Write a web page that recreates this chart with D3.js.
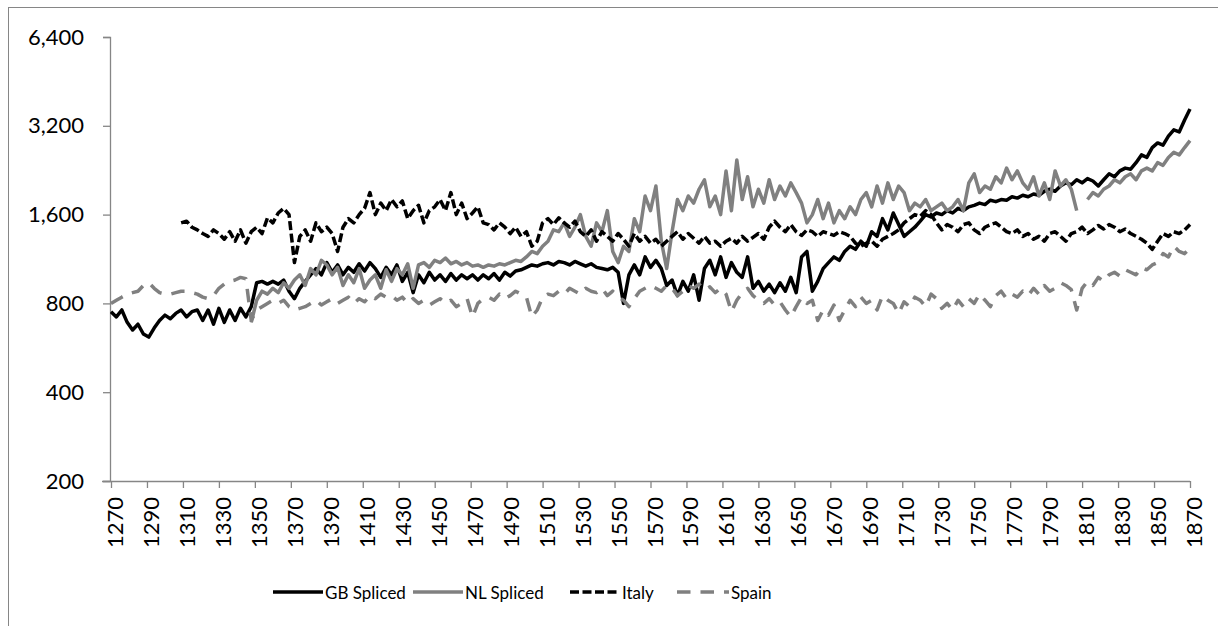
<!DOCTYPE html>
<html>
<head>
<meta charset="utf-8">
<script src="https://cdn.jsdelivr.net/npm/d3@7"></script>
<style>
  body { margin: 0; background: #fff; }
  text { font-family: Lato, "Open Sans", sans-serif; fill: #000; }
</style>
</head>
<body>
<div id="chart"></div>
<script>
// years sampled every 3 years, 1270 .. 1870
var firstYear = 1270, lastYear = 1870, yearStep = 3;
var years = d3.range(firstYear, lastYear + 1, yearStep);

var yTicks = [200, 400, 800, 1600, 3200, 6400];
var xTickYears = d3.range(1270, 1871, 20);

var gbSpliced = [
  750, 720, 760, 690, 650, 680, 630, 615, 660, 700,
  730, 710, 740, 760, 720, 750, 760, 700, 760, 680,
  770, 690, 760, 700, 770, 720, 780, 940, 950, 930,
  950, 930, 960, 880, 830, 900, 950, 1000, 1050, 1000,
  1100, 1020, 1080, 1000, 1060, 1020, 1090, 1030, 1100, 1050,
  980, 1060, 1000, 1080, 950, 1020, 870, 1000, 940, 1020,
  960, 1000, 950, 1010, 960, 1000, 970, 1000, 960, 1000,
  970, 1010, 960, 1020, 990, 1030, 1040, 1060, 1080, 1070,
  1090, 1100, 1080, 1110, 1100, 1080, 1110, 1090, 1070, 1090,
  1060, 1050, 1040, 1060, 1020, 800, 1000, 1080, 1000, 1150,
  1060, 1120, 1050, 920, 960, 850, 950, 880, 1000, 820,
  1050, 1120, 1000, 1150, 980, 1100, 1020, 980, 1150, 900,
  950, 880, 930, 870, 940, 880, 980, 870, 1150, 1200,
  880, 950, 1050, 1100, 1150, 1120, 1200, 1250, 1220, 1300,
  1250, 1400, 1350, 1550, 1420, 1620, 1480, 1350, 1400, 1450,
  1520, 1600, 1570, 1620, 1600, 1650, 1620, 1680, 1650, 1700,
  1720, 1750, 1730, 1790, 1770, 1800, 1790, 1840, 1820, 1860,
  1840, 1880, 1860, 1920, 1950, 1920, 2000, 2050, 2020, 2100,
  2050, 2120, 2080, 2000, 2100, 2200, 2150, 2250, 2300, 2280,
  2400, 2550, 2500, 2700, 2800, 2750, 2950, 3100, 3050, 3350,
  3650
];

var nlSpliced = [
  null, null, null, null, null, null, null, null, null, null,
  null, null, null, null, null, null, null, null, null, null,
  null, null, null, null, null, null, 690, 820, 880, 860,
  900, 870, 940, 900, 960, 1000, 920, 1050, 1000, 1120,
  1080, 1000, 1060, 920, 1000, 940, 1050, 900, 960, 1000,
  900, 1040, 950, 1050, 1000, 1090, 900, 1080, 1100, 1060,
  1120, 1100, 1140, 1090, 1110, 1080, 1100, 1070, 1080, 1060,
  1080, 1070, 1090, 1080, 1100, 1120, 1110, 1150, 1200, 1180,
  1250, 1300, 1420, 1400, 1500, 1350, 1450, 1600, 1350, 1250,
  1500, 1400, 1650, 1200, 1100, 1250, 1200, 1550, 1400, 1850,
  1650, 2000, 1300, 1050, 1400, 1800, 1650, 1850, 1750, 1950,
  2100, 1700, 1850, 1600, 2250, 1650, 2450, 1800, 2150, 1700,
  1950, 1750, 2100, 1800, 2000, 1850, 2050, 1900, 1750, 1500,
  1600, 1800, 1550, 1750, 1500, 1650, 1550, 1700, 1600, 1800,
  1900, 1700, 2000, 1750, 2050, 1800, 2000, 1900, 1650, 1750,
  1700, 1800, 1650, 1700, 1750, 1650, 1700, 1800, 1650, 2050,
  2200, 1900, 2000, 1950, 2150, 2050, 2300, 2100, 2250, 2050,
  1950, 2150, 1850, 2050, 1800, 2250, 2000, 2100, 1950, 1650,
  null, 1800, 1900, 1850, 1950, 2000, 2100, 2050, 2150, 2200,
  2100, 2250, 2300, 2250, 2400, 2350, 2500, 2600, 2550, 2700,
  2850
];

var italy = [
  null, null, null, null, null, null, null, null, null, null,
  null, null, null, 1500, 1520, 1450, 1420, 1380, 1350, 1420,
  1380, 1320, 1400, 1300, 1420, 1280, 1400, 1450, 1380, 1560,
  1500, 1620, 1680, 1600, 1100, 1350, 1420, 1300, 1500, 1400,
  1450, 1380, 1200, 1450, 1550, 1500, 1600, 1680, 1900, 1600,
  1750, 1650, 1800, 1700, 1780, 1550, 1650, 1720, 1500, 1650,
  1700, 1800, 1650, 1900, 1600, 1750, 1550, 1620, 1700, 1500,
  1480, 1420, 1500, 1450, 1380, 1450, 1350, 1400, 1250, 1300,
  1500, 1550, 1480, 1560, 1500, 1450, 1520, 1400, 1350, 1420,
  1300, 1400, 1350, 1300, 1380, 1320, 1250, 1380, 1300, 1350,
  1280, 1320, 1250, 1300, 1350, 1400, 1320, 1380, 1330, 1280,
  1350, 1280, 1300, 1250, 1300, 1330, 1280, 1350, 1300, 1340,
  1380, 1320, 1450, 1520, 1450, 1400, 1480, 1400, 1360, 1420,
  1400, 1350, 1400, 1380, 1360, 1400, 1380, 1350, 1280, 1250,
  1280, 1300, 1250, 1320, 1350, 1380, 1420, 1500, 1550, 1600,
  1580, 1650, 1600, 1500, 1420, 1480, 1450, 1400, 1480, 1500,
  1420, 1380, 1450, 1480, 1500, 1450, 1400, 1380, 1420, 1350,
  1380, 1320, 1350, 1300, 1380, 1400, 1350, 1300, 1380, 1400,
  1450, 1380, 1420, 1470, 1430, 1480, 1450, 1400, 1430, 1380,
  1350, 1320, 1280, 1220, 1300, 1380, 1350, 1400, 1380, 1420,
  1480
];

var spain = [
  800, 820, 840, 860, 870, 880, 920, 940, 900, 870,
  860, 860, 870, 880, 880, 870, 860, 840, 830, 850,
  900, 930, 950, 960, 980, 970, 700, 760, 780, 800,
  820, 800, 820, 780, 760, 770, 780, 800, 820, 790,
  810, 830, 800, 820, 840, 800, 830, 810, 850, 830,
  860, 840, 850, 820, 840, 800, 830, 800, 820, 790,
  810, 830, 800, 820, 780, 800, 830, 720, 800, 830,
  840, 820, 860, 830, 850, 880, 860, 840, 720, 760,
  840, 860, 850, 880, 860, 900, 880, 860, 900, 880,
  870, 900, 850, 880, 840, 820, 780, 830, 880, 900,
  920, 900, 880, 920, 900, 850, 880, 920, 900, 930,
  890, 910, 870, 900, 860, 750, 820, 870, 900, 850,
  820, 800, 830, 790, 810, 760, 720, 780, 840, 800,
  820, 700, 760, 730, 790, 700, 760, 820, 780, 840,
  800, 820, 760, 850, 820, 800, 740, 810, 780, 840,
  820, 780, 860, 830, 770, 800, 760, 820, 780, 830,
  800, 860, 820, 780, 850, 880, 830, 860, 840, 880,
  850, 900, 860, 920, 880, 900, 940, 920, 890, 760,
  900, 950, 920, 980, 950, 1000, 1020, 990, 1040, 1020,
  1000, 1060, 1040, 1080, 1100, 1180, 1150, 1250, 1200, 1180,
  1230
];

var seriesNames = ["GB Spliced", "NL Spliced", "Italy", "Spain"];
var seriesValues = [gbSpliced, nlSpliced, italy, spain];

// styles per series
var styles = [
  { color: "#000000", width: 3.5, dash: null },
  { color: "#808080", width: 3.5, dash: null },
  { color: "#000000", width: 3.5, dash: "9,3.5" },
  { color: "#808080", width: 3.5, dash: "13.5,10" }
];

var margin = { top: 37, right: 28, bottom: 145, left: 111 },
    width = 1079,
    height = 444;

var svg = d3.select("#chart")
  .append("svg")
  .attr("width", 1218)
  .attr("height", 626);

// chart area border
svg.append("rect")
  .attr("x", 8.5).attr("y", 7.5)
  .attr("width", 1230).attr("height", 640)
  .attr("fill", "none")
  .attr("stroke", "#868686")
  .attr("stroke-width", 1);

var g = svg.append("g")
  .attr("transform", "translate(" + margin.left + "," + margin.top + ")");

var x = d3.scaleLinear()
  .domain([firstYear, lastYear])
  .range([0, width]);

var y = d3.scaleLog()
  .base(2)
  .domain([200, 6400])
  .range([height, 0]);

// Y axis
var yAxis = g.append("g")
  .attr("transform", "translate(-1,0)")
  .call(d3.axisLeft(y).tickValues(yTicks).tickSize(7).tickPadding(19)
    .tickFormat(d3.format(",")));
yAxis.selectAll("path, line").attr("stroke", "#868686").attr("stroke-width", 1.3);
yAxis.selectAll("text")
  .style("font-size", "22px")
  .style("font-family", "Lato, sans-serif");

// X axis
var xAxis = g.append("g")
  .attr("transform", "translate(0," + height + ")")
  .call(d3.axisBottom(x).tickValues(xTickYears).tickSize(7)
    .tickSizeOuter(0).tickFormat(d3.format("d")));
xAxis.select(".domain").attr("d", "M-9,0.5H" + width);
xAxis.selectAll("path, line").attr("stroke", "#868686").attr("stroke-width", 1.3);
xAxis.selectAll("text")
  .style("font-size", "22px")
  .style("font-family", "Lato, sans-serif")
  .attr("text-anchor", "end")
  .attr("dy", null)
  .attr("y", null)
  .attr("dominant-baseline", "central")
  .attr("transform", "translate(3,16) rotate(-90)");

// lines
var line = d3.line()
  .defined(function (d) { return d[1] != null; })
  .x(function (d) { return x(d[0]); })
  .y(function (d) { return y(d[1]); });

seriesValues.forEach(function (vals, k) {
  var pts = years.map(function (yr, i) { return [yr, vals[i]]; });
  var s = styles[k];
  g.append("path")
    .datum(pts)
    .attr("fill", "none")
    .attr("stroke", s.color)
    .attr("stroke-width", s.width)
    .attr("stroke-linejoin", "round")
    .attr("stroke-dasharray", s.dash)
    .attr("d", line);
});

// legend
var legendX = [273, 413, 570, 677];
var legend = svg.append("g").attr("transform", "translate(0,592)");
seriesNames.forEach(function (name, k) {
  var s = styles[k];
  legend.append("line")
    .attr("x1", legendX[k]).attr("x2", legendX[k] + (k == 3 ? 52 : 50))
    .attr("y1", 0).attr("y2", 0)
    .attr("stroke", s.color)
    .attr("stroke-width", s.width)
    .attr("stroke-dasharray", s.dash);
  legend.append("text")
    .attr("x", legendX[k] + (k == 3 ? 54 : 52))
    .attr("y", 0)
    .attr("dominant-baseline", "central")
    .style("font-size", "17px")
    .text(name);
});
</script>
</body>
</html>
